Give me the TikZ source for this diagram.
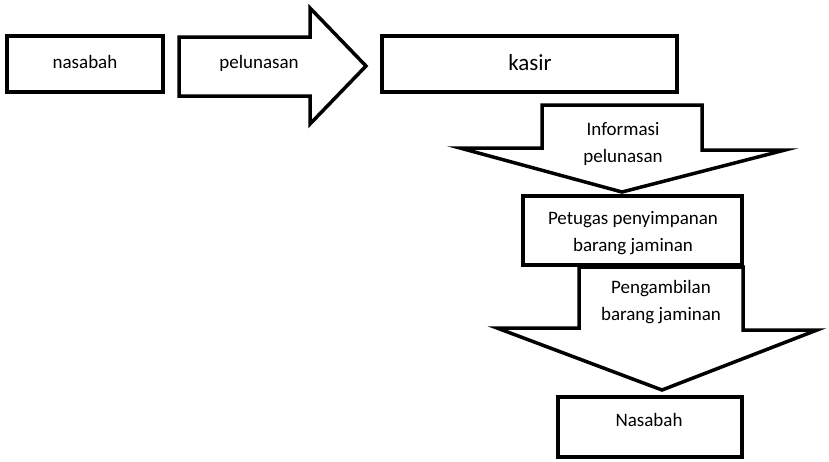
\documentclass[tikz,border=0pt]{standalone}
\usepackage{fontspec}
\setmainfont{Carlito}
\begin{document}
\begin{tikzpicture}[x=1pt,y=-1pt,
  box/.style={draw=black,line width=3.5pt,fill=white,inner sep=0pt},
  shp/.style={draw=black,line width=3.5pt,fill=white,line join=miter},
  lbl/.style={font=\fontsize{19}{27}\selectfont,align=center,inner sep=0pt}]
\useasboundingbox (0,0) rectangle (829,461);
% boxes
\node[box,minimum width=156pt,minimum height=56pt] (nas) at (85,64) {};
\node[lbl] (nastx) at (85,62) {nasabah};
\node[box,minimum width=295pt,minimum height=56pt] (kas) at (529.5,64) {};
\node[lbl,font=\fontsize{23}{27}\selectfont] (kastx) at (530,63) {kasir};
% right arrow
\draw[shp] (179,37) -- (310,37) -- (310,8) -- (366,66) -- (310,124) -- (310,96) -- (179,96) -- cycle;
\node[lbl] (pel) at (259,63) {pelunasan};
% down arrow 1
\draw[shp] (542,105) -- (702,105) -- (702,150) -- (785,150) -- (622,192) -- (460,148) -- (542,148) -- cycle;
\node[lbl] (inf) at (623,144) {Informasi\\pelunasan};
% petugas box
\node[box,minimum width=219pt,minimum height=69pt] (pet) at (632.5,230.5) {};
\node[lbl] (pettx) at (633,233) {Petugas penyimpanan\\barang jaminan};
% down arrow 2
\draw[shp] (579,267) -- (743,267) -- (743,330) -- (817,330) -- (662,390) -- (497,328) -- (579,328) -- cycle;
\node[lbl] (pen) at (661,302) {Pengambilan\\barang jaminan};
% final box
\node[box,minimum width=184pt,minimum height=60pt] (nas2) at (650,427) {};
\node[lbl] (nas2tx) at (649,420) {Nasabah};
\end{tikzpicture}
\end{document}
